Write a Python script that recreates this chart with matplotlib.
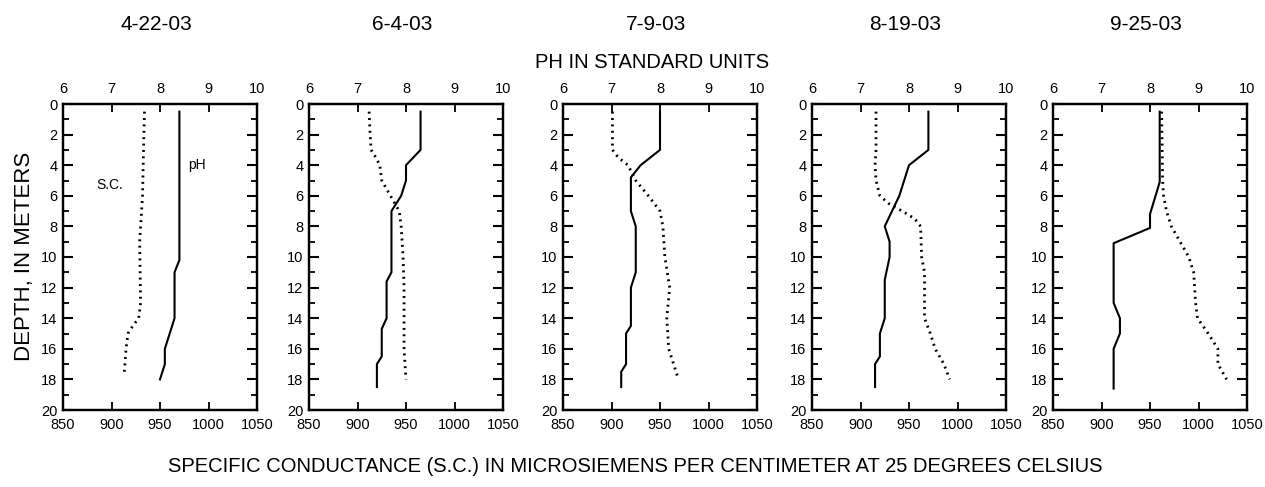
import matplotlib
matplotlib.use("Agg")
import matplotlib.pyplot as plt
from matplotlib.ticker import MultipleLocator

plt.rcParams['font.family'] = ['Liberation Sans', 'DejaVu Sans']

dates = ["4-22-03", "6-4-03", "7-9-03", "8-19-03", "9-25-03"]

# pH profiles (depth in meters, pH in standard units)
ph_depth_0422 = [0.5, 10.2, 11, 14, 15, 16, 17, 18]
ph_0422 = [8.4, 8.4, 8.3, 8.3, 8.2, 8.1, 8.1, 8.0]
ph_depth_0604 = [0.5, 3, 4, 5, 6, 7, 11, 11.6, 14, 14.7, 16.5, 17, 18.5]
ph_0604 = [8.3, 8.3, 8.0, 8.0, 7.9, 7.7, 7.7, 7.6, 7.6, 7.5, 7.5, 7.4, 7.4]
ph_depth_0709 = [0.5, 3, 4, 4.8, 7, 8, 11, 12, 14.5, 15, 17, 17.5, 18.5]
ph_0709 = [8.0, 8.0, 7.6, 7.4, 7.4, 7.5, 7.5, 7.4, 7.4, 7.3, 7.3, 7.2, 7.2]
ph_depth_0819 = [0.5, 3, 4, 5, 6, 7, 8, 9, 10, 11.5, 13, 14, 15, 16.5, 17, 18.5]
ph_0819 = [8.4, 8.4, 8.0, 7.9, 7.8, 7.65, 7.5, 7.6, 7.6, 7.5, 7.5, 7.5, 7.4, 7.4, 7.3, 7.3]
ph_depth_0925 = [0.5, 5.1, 7.2, 8.1, 9.1, 13, 14, 15, 16, 18.6]
ph_0925 = [8.2, 8.2, 8.0, 8.0, 7.25, 7.25, 7.38, 7.38, 7.25, 7.25]

# Specific conductance profiles (depth in meters, microsiemens per cm at 25 C)
sc_depth_0422 = [0.5, 3, 6, 9, 13, 14, 14.5, 15, 16, 17.7]
sc_0422 = [934, 933, 932, 929, 930, 928, 922, 917, 915, 913]
sc_depth_0604 = [0.5, 2, 3, 3.5, 4, 5, 6, 7, 8, 10, 12, 14, 16, 17, 18]
sc_0604 = [912, 913, 914, 919, 923, 925, 934, 943, 945, 947, 948, 948, 948, 949, 950]
sc_depth_0709 = [0.5, 3, 3.5, 4, 5, 6, 7, 8, 10, 12, 14, 16, 17, 18]
sc_0709 = [901, 901, 907, 917, 925, 938, 950, 953, 955, 960, 957, 959, 964, 969]
sc_depth_0819 = [0.5, 3, 4, 5, 6, 6.5, 7, 7.5, 8, 10, 11, 14, 15, 16, 17, 18]
sc_0819 = [916, 916, 915, 916, 920, 929, 943, 956, 962, 963, 966, 966, 972, 977, 986, 992]
sc_depth_0925 = [0.5, 5, 6, 7, 8, 9, 10, 11, 13, 14, 15, 16, 17, 18]
sc_0925 = [962, 963, 964, 967, 972, 981, 990, 995, 997, 999, 1010, 1020, 1020, 1029]

ph_profiles = [(ph_depth_0422, ph_0422), (ph_depth_0604, ph_0604), (ph_depth_0709, ph_0709),
               (ph_depth_0819, ph_0819), (ph_depth_0925, ph_0925)]
sc_profiles = [(sc_depth_0422, sc_0422), (sc_depth_0604, sc_0604), (sc_depth_0709, sc_0709),
               (sc_depth_0819, sc_0819), (sc_depth_0925, sc_0925)]

sc_ticks = [850, 900, 950, 1000, 1050]
ph_ticks = [6, 7, 8, 9, 10]
depth_ticks = list(range(0, 21, 2))

W, H = 1265, 487
fig = plt.figure(figsize=(W / 100, H / 100), dpi=100)

lefts_px = [63, 309, 563, 812, 1053]
width_px = 194
top_px, bottom_px = 104, 410

for i, left in enumerate(lefts_px):
    ax = fig.add_axes([left / W, 1 - bottom_px / H, width_px / W, (bottom_px - top_px) / H])
    d, sc = sc_profiles[i]
    ax.plot(sc, d, color='black', lw=2.0, linestyle=(0, (0.7, 1.6)))
    ax.set_xlim(850, 1050)
    ax.set_ylim(20, 0)
    ax.set_xticks(sc_ticks)
    ax.set_yticks(depth_ticks)
    ax.yaxis.set_minor_locator(MultipleLocator(1))
    ax.tick_params(axis='x', direction='in', length=6, width=1.3, labelsize=10.5, pad=6,
                   top=False, bottom=True)
    ax.tick_params(axis='y', which='major', direction='in', length=7, width=1.5,
                   labelsize=10.5, left=True, right=True, pad=4)
    ax.tick_params(axis='y', which='minor', direction='in', length=4, width=1.3,
                   left=True, right=True)
    for sp in ax.spines.values():
        sp.set_linewidth(1.6)

    ax2 = ax.twiny()
    d, ph = ph_profiles[i]
    ax2.plot(ph, d, color='black', lw=1.5)
    ax2.set_xlim(6, 10)
    ax2.set_xticks(ph_ticks)
    ax2.tick_params(axis='x', direction='in', length=6, width=1.3, labelsize=10.5, pad=6)
    for sp in ax2.spines.values():
        sp.set_linewidth(1.6)

    cx = (left + width_px / 2 - 4) / W
    fig.text(cx, 1 - 25 / H, dates[i], ha='center', va='center', fontsize=15)

    if i == 0:
        ax.text(898, 5.3, "S.C.", fontsize=10, ha='center', va='center')
        ax2.text(8.77, 4.0, "pH", fontsize=10, ha='center', va='center')

fig.text(652 / W, 1 - 62 / H, "PH IN STANDARD UNITS", ha='center', va='center', fontsize=14.5)
fig.text(25 / W, 1 - 256 / H, "DEPTH, IN METERS", ha='center', va='center',
         rotation=90, fontsize=16)
fig.text(635 / W, 1 - 466 / H,
         "SPECIFIC CONDUCTANCE (S.C.) IN MICROSIEMENS PER CENTIMETER AT 25 DEGREES CELSIUS",
         ha='center', va='center', fontsize=14.5)

fig.savefig("out.png", dpi=100)
